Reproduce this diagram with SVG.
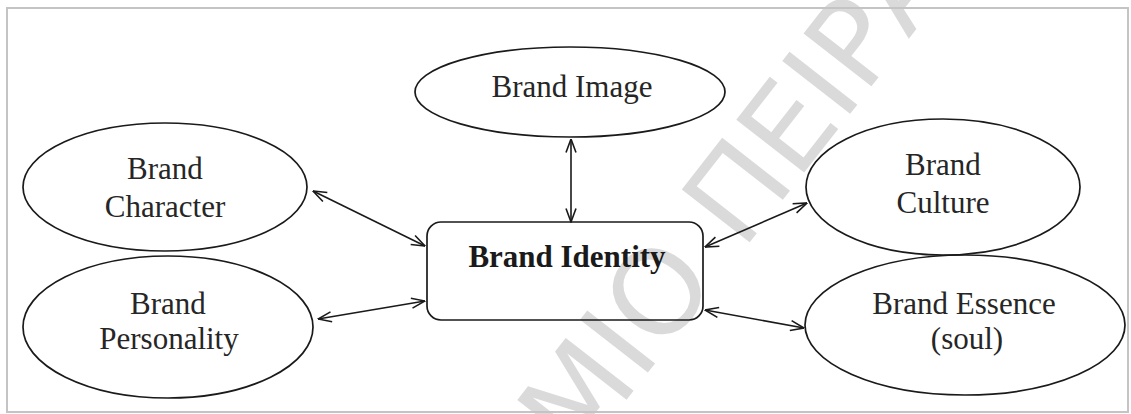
<svg xmlns="http://www.w3.org/2000/svg" width="1131" height="414" viewBox="0 0 1131 414">
  <style>
    .node { fill: none; stroke: #1a1a1a; stroke-width: 1.7; }
    .label { font-family: "Liberation Serif", "Times New Roman", serif; font-size: 31px; fill: #262626; text-anchor: middle; }
    .bold { font-weight: bold; fill: #1a1a1a; }
    .link { fill: none; stroke: #1a1a1a; stroke-width: 1.6; marker-start: url(#head); marker-end: url(#head); }
    .mark { font-family: "DejaVu Sans", "Liberation Sans", sans-serif; font-size: 118px; fill: #dadada; }
  </style>
  <defs>
    <!-- open V arrowhead, reversed at the start of each line -->
    <marker id="head" viewBox="0 0 15 12" refX="14.5" refY="6" markerWidth="15" markerHeight="12" markerUnits="userSpaceOnUse" orient="auto-start-reverse">
      <path d="M1,1 L14.5,6 L1,11" fill="none" stroke="#1a1a1a" stroke-width="1.6"/>
    </marker>
  </defs>

  <rect width="1131" height="414" fill="#ffffff"/>

  <!-- watermark -->
  <text class="mark" transform="translate(578,462) rotate(-52)">ΜΙΟ ΠΕΙΡΑ</text>

  <!-- frame -->
  <rect x="7" y="8" width="1121" height="404" fill="none" stroke="#c4c4c4" stroke-width="2"/>

  <g id="connectors">
    <line class="link" x1="571" y1="139" x2="571" y2="222"/>
    <line class="link" x1="313" y1="191" x2="425" y2="246"/>
    <line class="link" x1="318" y1="319" x2="425" y2="301"/>
    <line class="link" x1="807" y1="203" x2="705" y2="247"/>
    <line class="link" x1="705" y1="310" x2="804" y2="328"/>
  </g>

  <g id="brand-identity">
    <rect class="node" x="427" y="222" width="276" height="98" rx="14"/>
    <text class="label bold" x="567" y="267">Brand Identity</text>
  </g>

  <g id="brand-image">
    <ellipse class="node" cx="570" cy="92" rx="155" ry="45"/>
    <text class="label" x="572" y="97">Brand Image</text>
  </g>

  <g id="brand-character">
    <ellipse class="node" cx="165" cy="187" rx="142" ry="64"/>
    <text class="label" x="165" y="179">Brand</text>
    <text class="label" x="165" y="217">Character</text>
  </g>

  <g id="brand-personality">
    <ellipse class="node" cx="168" cy="327" rx="145" ry="71"/>
    <text class="label" x="168" y="314">Brand</text>
    <text class="label" x="169" y="349">Personality</text>
  </g>

  <g id="brand-culture">
    <ellipse class="node" cx="943" cy="187" rx="137" ry="68"/>
    <text class="label" x="943" y="175">Brand</text>
    <text class="label" x="943" y="213">Culture</text>
  </g>

  <g id="brand-essence">
    <ellipse class="node" cx="965" cy="325" rx="160" ry="70"/>
    <text class="label" x="964" y="314">Brand Essence</text>
    <text class="label" x="967" y="349">(soul)</text>
  </g>
</svg>
